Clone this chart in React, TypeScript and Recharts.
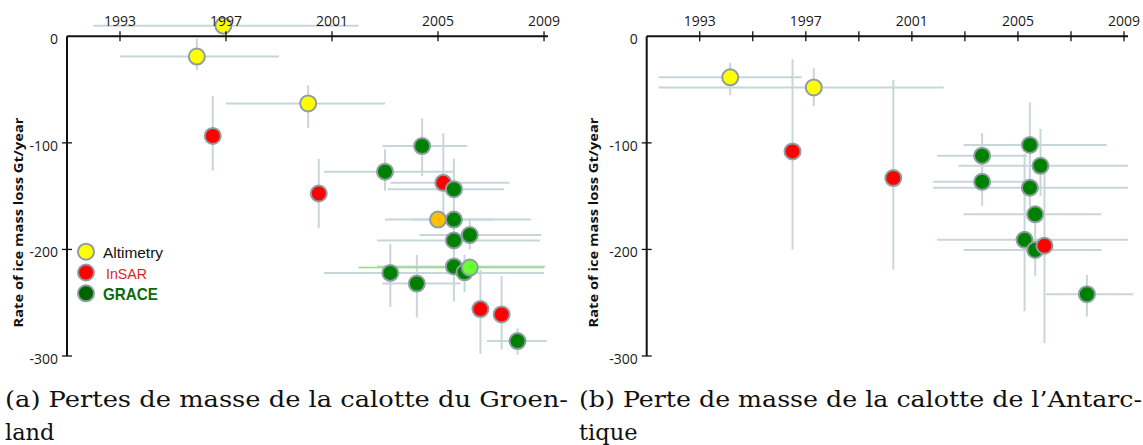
import React from 'react';
import { ScatterChart, Scatter, XAxis, YAxis, ErrorBar, ReferenceLine } from 'recharts';

type Obs = { year: number; rate: number; x?: [number, number]; y?: [number, number] };

// Greenland (a)
const grlAltimetry: Obs[] = [
  { year: 1996.9, rate: 10, x: [1992.0, 2002.0] },
  { year: 1995.9, rate: -19, x: [1993.0, 1999.0], y: [-32, -2] },
  { year: 2000.1, rate: -63, x: [1997.0, 2003.0], y: [-86, -46] },
];
const grlAltimetryOther: Obs[] = [{ year: 2005.0, rate: -172, x: [2003.0, 2007.1] }];
const grlInsar: Obs[] = [
  { year: 1996.5, rate: -93.5, y: [-126, -56] },
  { year: 2000.5, rate: -147.5, y: [-180, -115] },
  { year: 2005.2, rate: -137.5, x: [2003.2, 2007.7], y: [-166, -91] },
  { year: 2006.6, rate: -256, y: [-298, -219] },
  { year: 2007.4, rate: -261, y: [-294, -225] },
];
const grlGrace: Obs[] = [
  { year: 2004.4, rate: -103, x: [2002.9, 2006.1], y: [-131, -77] },
  { year: 2003.0, rate: -127, x: [2000.7, 2005.6], y: [-145, -106] },
  { year: 2005.6, rate: -143.5, x: [2003.1, 2007.5], y: [-160, -115] },
  { year: 2005.6, rate: -172, x: [2004.0, 2008.5], y: [-205, -160] },
  { year: 2006.2, rate: -186.5, x: [2004.3, 2008.9], y: [-200, -171] },
  { year: 2005.6, rate: -191.5, x: [2002.7, 2008.85] },
  { year: 2005.6, rate: -216, x: [2002.7, 2009.05], y: [-249, -194] },
  { year: 2006.0, rate: -221.5, y: [-240, -205] },
  { year: 2003.2, rate: -222, x: [2000.7, 2009.0], y: [-254, -195] },
  { year: 2004.2, rate: -232, x: [2002.9, 2005.85], y: [-264, -205] },
  { year: 2008.0, rate: -286, x: [2006.85, 2009.1], y: [-299, -274] },
];
const grlGraceOther: Obs[] = [{ year: 2006.2, rate: -217, x: [2002.0, 2009.0] }];

// Antarctica (b)
const antAltimetry: Obs[] = [
  { year: 1994.15, rate: -38.5, x: [1991.45, 1996.85], y: [-55, -25] },
  { year: 1997.3, rate: -48, x: [1991.45, 2002.2], y: [-65.5, -30] },
];
const antInsar: Obs[] = [
  { year: 1996.5, rate: -108, y: [-200, -21.5] },
  { year: 2000.3, rate: -133, y: [-219, -41] },
  { year: 2006.0, rate: -196.5, y: [-288, -120] },
];
const antGrace: Obs[] = [
  { year: 2003.65, rate: -112, x: [2001.95, 2005.35], y: [-125, -91] },
  { year: 2003.65, rate: -136.5, x: [2001.8, 2005.4], y: [-159, -118] },
  { year: 2005.45, rate: -102, x: [2002.95, 2008.35], y: [-140, -62] },
  { year: 2005.85, rate: -121.5, x: [2002.75, 2009.15], y: [-150, -87] },
  { year: 2005.45, rate: -142, x: [2001.8, 2009.15], y: [-160, -124] },
  { year: 2005.65, rate: -167, x: [2002.95, 2008.15] },
  { year: 2005.25, rate: -191, x: [2001.95, 2009.15], y: [-258, -110] },
  { year: 2005.65, rate: -200.5, x: [2002.95, 2008.15], y: [-225, -175] },
  { year: 2007.6, rate: -242, x: [2006.05, 2009.35], y: [-263, -224] },
];

const labeledYears = [1993, 1997, 2001, 2005, 2009];
const allYears = [1993, 1995, 1997, 1999, 2001, 2003, 2005, 2007, 2009];
const rateTicks = [0, -100, -200, -300];
const legendItems = ['Altimetry', 'InSAR', 'GRACE'];
const yTitle = 'Rate of ice mass loss Gt/year';
const captionA = ['(a) Pertes de masse de la calotte du Groen-', 'land'];
const captionB = ['(b) Perte de masse de la calotte de l\u2019Antarc-', 'tique'];

const X_DOMAIN = [1991, 2009.15];
const Y_DOMAIN = [-300, 20];
const PLOT_H = 341;
const PAD = (Y_DOMAIN[1] * PLOT_H) / (Y_DOMAIN[1] - Y_DOMAIN[0]);

const YELLOW = '#ffff00';
const RED = '#ff0000';
const GREEN = '#008000';
const ORANGE = '#ffc000';
const LIME = '#66ff33';
const BAR = '#c9d6d9';
const TICK_FONT = { fontFamily: 'Open Sans', fontSize: 14, fill: '#1a1a1a' };

const toPoints = (rows: Obs[]) =>
  rows.map((r) => ({
    year: r.year,
    rate: r.rate,
    xErr: r.x ? [r.year - r.x[0], r.x[1] - r.year] : null,
    yErr: r.y ? [r.rate - r.y[0], r.y[1] - r.rate] : null,
  }));

const dot = (fill: string) => (p: any) =>
  <circle cx={p.cx} cy={p.cy} r={8} fill={fill} stroke="#8c9ea2" strokeWidth={2} />;

const XTick = (p: any) => {
  const y0 = p.y + PAD;
  const v = p.payload.value;
  return (
    <g>
      <line x1={p.x} x2={p.x} y1={y0 - 5} y2={y0 + 5} stroke="#111" strokeWidth={1.3} />
      {labeledYears.includes(v) && (
        <text x={p.x} y={y0 - 10} textAnchor="middle" {...TICK_FONT}>{v}</text>
      )}
    </g>
  );
};

const YTick = (p: any) => {
  const v = p.payload.value;
  return (
    <g>
      {v !== 0 && <line x1={p.x - 5} x2={p.x + 5} y1={p.y} y2={p.y} stroke="#111" strokeWidth={1.3} />}
      <text x={p.x - 9} y={p.y + 8} textAnchor="end" {...TICK_FONT}>{v}</text>
    </g>
  );
};

const YLabel = (p: any) => {
  const vb = p.viewBox;
  const cy = vb.y + vb.height / 2 + 37;
  return (
    <text x={17.5} y={cy} transform={`rotate(-90 17.5 ${cy})`} textAnchor="middle" dominantBaseline="central"
      fontFamily="Open Sans" fontWeight={700} fontSize={13} fill="#111"
      textLength={210} lengthAdjust="spacingAndGlyphs">
      {yTitle}
    </text>
  );
};

type Series = { rows: Obs[]; fill: string; bar?: string };

const Panel = ({ left, marginLeft, marginRight, ticks, series }: any) => (
  <div style={{ position: 'absolute', left, top: 0 }}>
    <ScatterChart width={575} height={372} margin={{ top: 0, right: marginRight, bottom: 16, left: marginLeft }}>
      <XAxis type="number" dataKey="year" orientation="top" domain={X_DOMAIN} allowDataOverflow
        ticks={ticks} interval={0} height={15} tickSize={0} tickMargin={0}
        axisLine={false} tickLine={false} tick={XTick} />
      <YAxis type="number" dataKey="rate" domain={Y_DOMAIN} allowDataOverflow
        ticks={rateTicks} interval={0} width={60} tickSize={0} tickMargin={0}
        axisLine={false} tickLine={false} tick={YTick} label={{ value: yTitle, content: YLabel }} />
      <ReferenceLine segment={[{ x: X_DOMAIN[0], y: 0 }, { x: X_DOMAIN[1], y: 0 }]} stroke="#111" strokeWidth={2} />
      <ReferenceLine segment={[{ x: X_DOMAIN[0], y: 0 }, { x: X_DOMAIN[0], y: -300 }]} stroke="#111" strokeWidth={2} />
      {series.map((s: Series, i: number) => (
        <Scatter key={i} data={toPoints(s.rows)} isAnimationActive={false} shape={dot(s.fill)}>
          <ErrorBar dataKey="xErr" direction="x" width={0} stroke={s.bar || BAR} strokeWidth={s.bar ? 1.5 : 2} />
          <ErrorBar dataKey="yErr" direction="y" width={0} stroke={BAR} strokeWidth={2} />
        </Scatter>
      ))}
    </ScatterChart>
  </div>
);

const legendColors = [YELLOW, RED, '#006400'];
const legendText = [
  { fill: '#111', weight: 400, size: 15, len: 60, dx: 103 },
  { fill: '#dd1f26', weight: 400, size: 15, len: 41, dx: 106 },
  { fill: '#0b6b0b', weight: 600, size: 17, len: 55, dx: 103 },
];

const Legend = () => (
  <svg width={200} height={80} style={{ position: 'absolute', left: 0, top: 230 }}>
    {legendItems.map((name, i) => (
      <g key={name}>
        <circle cx={86} cy={21.7 + i * 20.8} r={8} fill={legendColors[i]} stroke="#8c9ea2" strokeWidth={2} />
        <text x={legendText[i].dx} y={28 + i * 20.8} fill={legendText[i].fill} fontFamily="Liberation Sans"
          fontWeight={legendText[i].weight} fontSize={legendText[i].size}
          textLength={legendText[i].len} lengthAdjust="spacingAndGlyphs">{name}</text>
      </g>
    ))}
  </svg>
);

const Captions = () => (
  <svg width={1143} height={445} style={{ position: 'absolute', left: 0, top: 0, pointerEvents: 'none' }}>
    {[{ lines: captionA, x: 5 }, { lines: captionB, x: 579 }].map((c, i) => (
      <g key={i} fontFamily="DejaVu Serif" fontSize={22.5} fill="#111">
        <text x={c.x} y={407} textLength={563} lengthAdjust="spacingAndGlyphs">{c.lines[0]}</text>
        <text x={c.x} y={440}>{c.lines[1]}</text>
      </g>
    ))}
  </svg>
);

export default function App() {
  return (
    <div style={{ position: 'absolute', left: 0, top: 0, width: 1143, height: 445, background: '#fff', overflow: 'hidden' }}>
      <Panel left={0} marginLeft={7} marginRight={27} ticks={labeledYears}
        series={[
          { rows: grlAltimetry, fill: YELLOW },
          { rows: grlInsar, fill: RED },
          { rows: grlGrace, fill: GREEN },
          { rows: grlAltimetryOther, fill: ORANGE },
          { rows: grlGraceOther, fill: LIME, bar: '#7cf050' },
        ]} />
      <Panel left={575} marginLeft={11.7} marginRight={22} ticks={allYears}
        series={[
          { rows: antAltimetry, fill: YELLOW },
          { rows: antGrace, fill: GREEN },
          { rows: antInsar, fill: RED },
        ]} />
      <Legend />
      <Captions />
    </div>
  );
}
